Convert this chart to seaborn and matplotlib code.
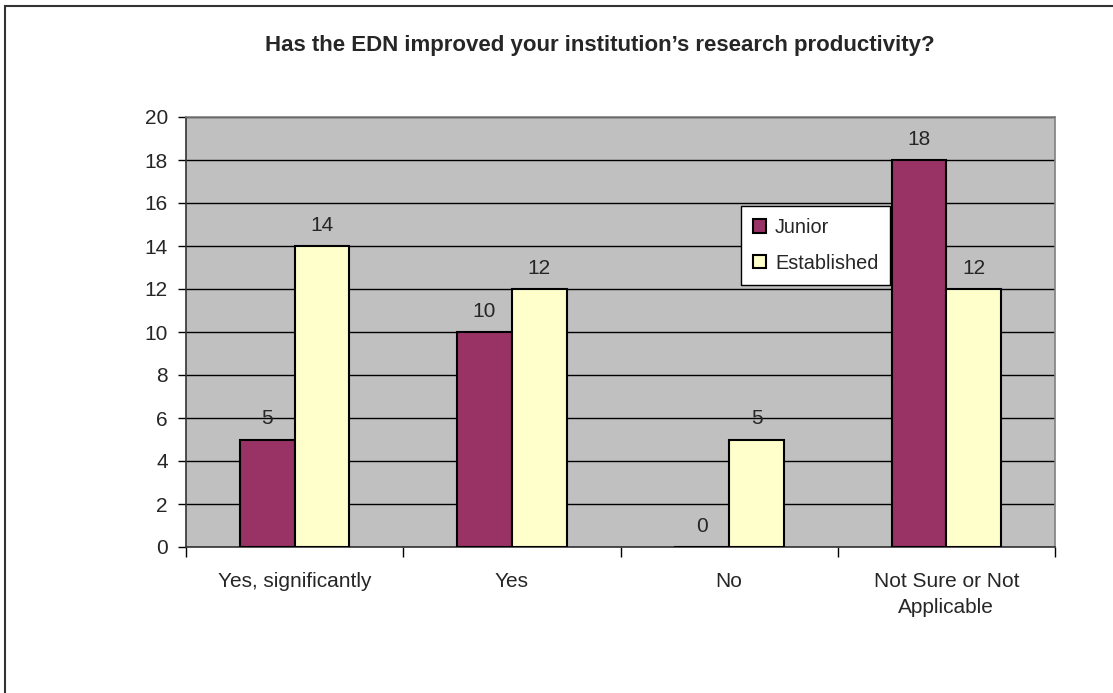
import pandas as pd
import matplotlib.pyplot as plt
import seaborn as sns
from matplotlib.patches import Rectangle
from matplotlib.ticker import FixedLocator

# Data
categories = ["Yes, significantly", "Yes", "No", "Not Sure or Not\nApplicable"]
junior = [5, 10, 0, 18]
established = [14, 12, 5, 12]
groups = ["Junior", "Established"]
colors = ["#993366", "#FFFFCC"]
yticks = list(range(0, 21, 2))

df = pd.DataFrame({
    "Answer": categories * 2,
    "Count": junior + established,
    "Group": [groups[0]] * len(categories) + [groups[1]] * len(categories),
})

sns.set_style("white")
plt.rcParams["font.family"] = ["Liberation Sans", "DejaVu Sans"]

fig = plt.figure(figsize=(11.13, 6.93), dpi=100)
ax = fig.add_axes([186 / 1113, 1 - 547 / 693, 869 / 1113, 430 / 693])
ax.set_facecolor("#C0C0C0")

sns.barplot(data=df, x="Answer", y="Count", hue="Group", hue_order=groups,
            palette=colors, width=0.505, gap=0, edgecolor="black",
            linewidth=1.5, saturation=1, ax=ax, zorder=3)

for cont in ax.containers:
    ax.bar_label(cont, fmt="%d", padding=8, fontsize=15)

ax.set_ylim(0, 20)
ax.set_xlim(-0.5, len(categories) - 0.5)
ax.set_yticks(yticks)
ax.yaxis.grid(True, color="black", linewidth=1.0, zorder=1)
ax.set_axisbelow(True)
ax.tick_params(axis="y", which="major", direction="out", length=6, width=1,
               color="black", labelsize=15, pad=7, left=True)
ax.tick_params(axis="x", which="major", length=0, labelsize=15, pad=18)
for lbl in ax.get_xticklabels():
    lbl.set_linespacing(1.45)
ax.xaxis.set_minor_locator(FixedLocator([i - 0.5 for i in range(len(categories) + 1)]))
ax.tick_params(axis="x", which="minor", direction="out", length=7, width=1,
               color="black", bottom=True)
ax.set_xlabel("")
ax.set_ylabel("")

for side in ["left", "bottom"]:
    ax.spines[side].set_color("#333333")
    ax.spines[side].set_linewidth(1.2)
for side in ["top", "right"]:
    ax.spines[side].set_color("#808080")
    ax.spines[side].set_linewidth(1.2)

leg = ax.legend(loc="upper left", bbox_to_anchor=(0.639, 0.793), borderaxespad=0,
                fontsize=14.3, frameon=True, fancybox=False, framealpha=1,
                edgecolor="black", handlelength=0.65, handleheight=0.65,
                handletextpad=0.45, borderpad=0.6, labelspacing=0.85)
leg.get_frame().set_linewidth(1.0)

fig.text(600 / 1113, 1 - 45 / 693, "Has the EDN improved your institution\u2019s research productivity?",
         ha="center", va="center", fontsize=16, fontweight="bold")

# Outer chart frame (right and bottom edges are cut off in the original)
fig.add_artist(Rectangle((5 / 1113, -0.1), 2, 1 - 6 / 693 + 0.1,
                         transform=fig.transFigure, fill=False,
                         edgecolor="#333333", linewidth=1.5))

plt.savefig("out.png", dpi=100)
plt.close()
